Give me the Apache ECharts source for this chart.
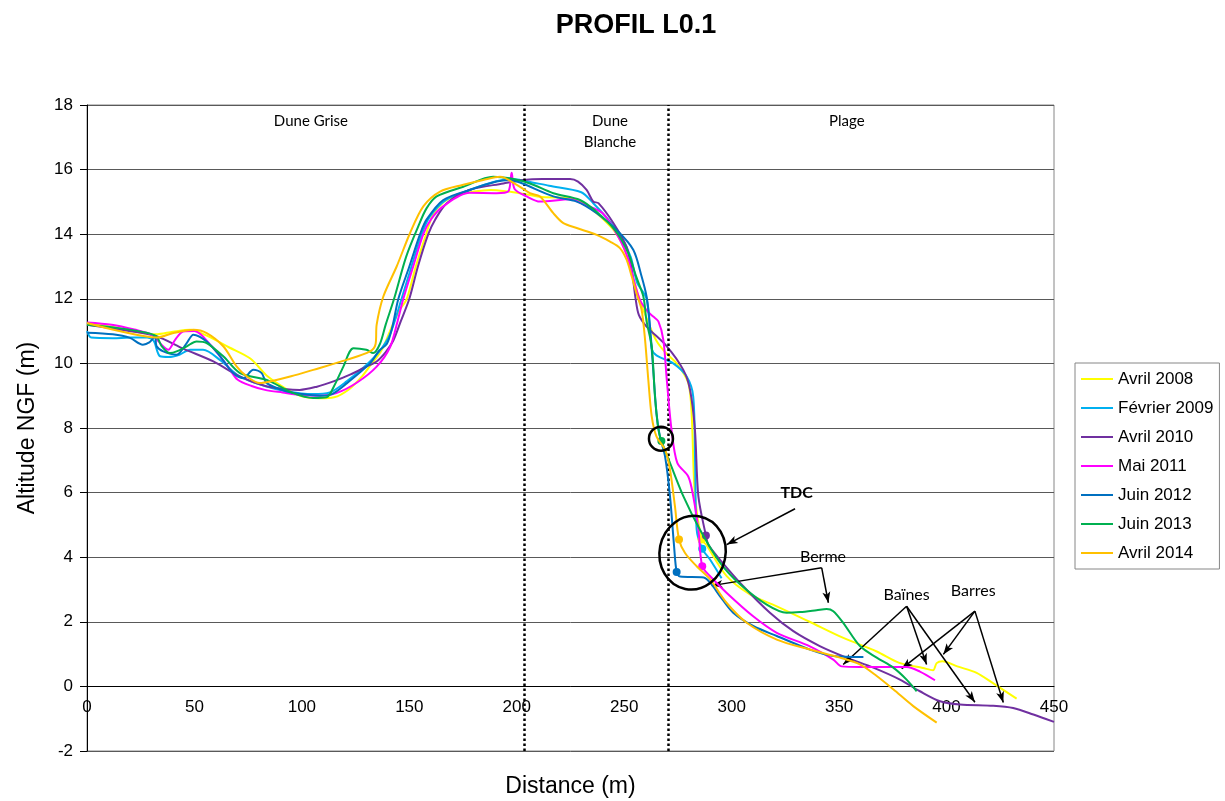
<!DOCTYPE html>
<html>
<head>
<meta charset="utf-8">
<title>PROFIL L0.1</title>
<script src="https://cdn.jsdelivr.net/npm/echarts@6.0.0/dist/echarts.min.js"></script>
<style>
html, body { margin: 0; padding: 0; background: #fff; }
#chart { width: 1225px; height: 801px; }
</style>
</head>
<body>
<div id="chart"></div>
<script>
// profils relevés (distance m, altitude NGF m)
const seriesNames = ['Avril 2008', 'Février 2009', 'Avril 2010', 'Mai 2011', 'Juin 2012', 'Juin 2013', 'Avril 2014'];
const seriesColors = ['#FFFF00', '#00B0F0', '#7030A0', '#FF00FF', '#0070C0', '#00B050', '#FFC000'];

const avril2008 = [[0,11.25],[10,11.15],[20,11.02],[32,10.9],[40,10.98],[48,11.04],[56,10.85],[66,10.5],[76,10.15],[84,9.6],[93,9.2],[100,8.98],[108,8.92],[115,8.95],[122,9.2],[128,9.6],[132,9.95],[137,10.4],[141,11.0],[145,11.6],[148.8,12.0],[153,13.0],[157.8,14.0],[161,14.6],[166,15.0],[172,15.2],[180,15.32],[188,15.37],[196,15.32],[203,15.25],[212,15.15],[225,15.13],[232,14.9],[238,14.6],[246,14.05],[251,13.4],[254,12.7],[257,12.0],[261,11.3],[265,10.7],[269,10.35],[274.4,10.0],[279.8,9.4],[281.4,8.4],[282.9,5.9],[286,4.55],[288,4.4],[297.6,3.42],[308.5,2.85],[321,2.48],[336,2.01],[352,1.5],[367.5,1.08],[378,0.73],[389,0.57],[393.7,0.5],[395.4,0.72],[398,0.78],[405,0.62],[414,0.42],[421.6,0.1],[432.6,-0.38]];
const fevrier2009 = [[0,11.0],[2,10.8],[12,10.78],[20,10.8],[28,10.8],[31,10.7],[34,10.22],[38,10.2],[43,10.27],[48,10.42],[54,10.42],[62,10.1],[71,9.6],[83.6,9.28],[93,9.13],[105,9.05],[113,9.1],[121,9.45],[130,9.95],[136,10.37],[141,10.9],[146.4,12.0],[151,13.0],[155.8,14.0],[159.6,14.55],[167,15.06],[178,15.37],[190,15.63],[197,15.72],[201.5,15.68],[215,15.5],[230,15.3],[235.6,14.96],[242,14.5],[248,13.98],[253,13.3],[256,12.5],[260.4,12.0],[262.8,10.45],[265,10.25],[272.8,10.0],[279,9.6],[282.1,8.98],[283,6.92],[283.7,4.86],[286.3,4.26],[290,3.92],[295.3,3.35]];
const avril2010 = [[0,11.2],[15,11.05],[32,10.85],[45,10.45],[58.8,10.06],[71,9.6],[83,9.3],[93,9.2],[99,9.18],[107,9.28],[115,9.45],[122.4,9.65],[130,9.9],[134.8,10.06],[139,10.35],[142.5,10.7],[146,11.3],[150,12.0],[154,13.0],[158.8,14.0],[162,14.45],[167.4,14.96],[178,15.37],[193.7,15.57],[203,15.68],[212,15.71],[224.8,15.71],[228.5,15.63],[232.5,15.37],[235.6,15.01],[238,14.96],[245,14.34],[251,13.62],[253.5,12.9],[255.3,12.0],[256.8,11.5],[260.4,11.14],[269.8,10.53],[277.5,9.8],[280.6,9.19],[282.9,7.95],[284.5,5.89],[288,4.67],[289.1,4.39],[294.6,3.92],[305.4,3.1],[317.8,2.28],[328.7,1.71],[341,1.25],[353.5,0.89],[365.9,0.58],[378.3,0.21],[387.6,-0.15],[397,-0.46],[406.2,-0.56],[421.7,-0.6],[431,-0.67],[440.4,-0.87],[450,-1.1]];
const mai2011 = [[0,11.27],[11.5,11.2],[22,11.05],[30,10.89],[35.4,10.53],[37.8,10.42],[41,10.73],[44.8,10.99],[50,11.0],[58,10.53],[65.6,9.9],[70,9.5],[76.6,9.3],[82.8,9.18],[91,9.1],[100,9.02],[107,9.0],[116,9.08],[125.5,9.4],[134.8,9.9],[141,10.5],[144.5,11.3],[147.2,12.0],[151.8,13.0],[156.5,14.0],[160,14.45],[165.7,14.86],[178,15.28],[190.6,15.27],[196,15.32],[197.6,15.9],[199,15.4],[204.6,15.17],[210.8,15.01],[224.8,15.08],[232,14.9],[240,14.65],[248,13.83],[252,13.2],[254,12.69],[257.3,11.97],[261,11.6],[263.5,11.45],[265.9,11.3],[268.2,10.73],[269.8,9.5],[272,7.95],[274.7,6.92],[279.8,6.5],[282.1,5.89],[284.5,4.86],[286.3,3.72],[290,3.41],[297.6,2.9],[310,2.17],[321,1.66],[336.4,1.24],[347.3,0.83],[351.2,0.62],[359.7,0.6],[381.4,0.6],[387.6,0.46],[394.6,0.19]];
const juin2012 = [[0,10.95],[12,10.9],[20,10.79],[26,10.58],[29,10.65],[31.6,10.83],[32.4,10.53],[35.5,10.37],[41.7,10.27],[46.4,10.63],[49.5,10.89],[55.7,10.68],[62,10.22],[68,9.7],[72.7,9.54],[77.4,9.8],[81.3,9.7],[83.6,9.39],[93,9.13],[100,9.05],[108.4,9.0],[114,9.05],[121,9.39],[131.7,10.0],[136,10.4],[139.5,10.6],[142,11.1],[144.9,12.0],[150,13.0],[155,14.0],[158,14.45],[165.8,15.06],[178,15.37],[190.6,15.63],[196.8,15.68],[201.5,15.6],[217,15.17],[227.9,15.01],[237.2,14.65],[246.5,14.13],[254.2,13.52],[258.1,12.69],[260.4,12.07],[261.8,11.3],[263.5,9.8],[265,8.47],[266.6,7.74],[269,7.12],[271.3,5.89],[273.2,4.34],[274.4,3.54],[276,3.4],[287,3.37],[290,3.21],[294.6,2.79],[300.7,2.28],[310,1.87],[321,1.56],[336.4,1.14],[347.3,0.94],[361.3,0.91]];
const juin2013 = [[0,11.2],[14,11.1],[27.7,10.95],[32.4,10.83],[34.8,10.53],[38.6,10.32],[42,10.38],[46.4,10.53],[51,10.68],[55.7,10.63],[63.4,10.22],[71.2,9.7],[83.6,9.49],[96,9.08],[105.3,8.93],[111.5,8.95],[115,9.3],[119.3,9.9],[124,10.47],[130,10.42],[133.2,10.32],[136.3,10.6],[139,11.2],[142.9,12.0],[148.5,13.3],[154.2,14.25],[158,14.8],[162.7,15.17],[175.1,15.47],[189,15.78],[196.8,15.73],[206.1,15.57],[217,15.27],[229.4,15.06],[237,14.7],[246,14.1],[252,13.4],[255.5,12.7],[258.9,12.07],[260.4,11.3],[262.8,10.53],[264.3,8.98],[265.9,7.95],[267.3,7.6],[271.3,6.92],[277.5,5.89],[285.2,4.86],[294.6,3.83],[303.9,3.16],[316.3,2.53],[325.6,2.28],[331.8,2.3],[339.5,2.36],[344.2,2.4],[347.3,2.33],[351.9,1.97],[359.7,1.25],[367.5,0.89],[375.2,0.58],[381.4,0.21],[386.1,-0.15]];
const avril2014 = [[0,11.25],[15,11.0],[32.4,10.8],[40.2,10.94],[49.5,11.04],[55.7,10.94],[63.4,10.53],[69.7,9.9],[74.3,9.6],[80.5,9.39],[85.2,9.44],[95,9.6],[105.3,9.8],[120.8,10.11],[131.7,10.37],[134.3,10.6],[134.8,11.2],[137.9,12.07],[144.1,13.0],[150.3,14.03],[156.5,14.86],[164.3,15.32],[175.1,15.53],[184.4,15.68],[192.2,15.78],[200,15.53],[206.1,15.27],[210.8,15.17],[217,14.65],[221.7,14.34],[227.9,14.19],[237.2,13.98],[243.4,13.77],[248,13.57],[251.1,13.21],[253.5,12.69],[256,12.1],[258.1,11.66],[259.7,10.73],[261.2,9.5],[262.8,8.36],[265,7.74],[269,7.33],[271.3,6.71],[273.6,5.58],[275.5,4.55],[278.3,4.13],[283.7,3.72],[290,3.31],[297.6,2.59],[307,1.97],[321,1.45],[336.4,1.14],[350.4,0.89],[359.7,0.68],[367.5,0.32],[375.2,-0.09],[384.5,-0.61],[395.4,-1.12]];
const profiles = [avril2008, fevrier2009, avril2010, mai2011, juin2012, juin2013, avril2014];

// points TDC (pied de dune) marqués sur chaque profil
const tdcPoints = [[286,4.55],[286.3,4.26],[288,4.67],[286.3,3.72],[274.4,3.54],[267.3,7.6],[275.5,4.55]];

// limites des unités morphologiques
const zoneLimits = [203.3, 270.4];

// flèches d'annotation : départ, arrivée
const arrows = [
  [[329.5,5.5],[297.7,4.39]],
  [[341.9,3.67],[290.7,3.12]],
  [[341.9,3.67],[345,2.59]],
  [[381.4,2.48],[351.9,0.68]],
  [[381.4,2.48],[390.7,0.68]],
  [[381.4,2.48],[413.2,-0.49]],
  [[413.2,2.33],[379.1,0.55]],
  [[413.2,2.33],[398.5,0.99]],
  [[413.2,2.33],[426.4,-0.5]]
];

const notes = [
  { text: 'Dune Grise', at: [104.2, 17.5], size: 15, bold: false },
  { text: 'Dune\nBlanche', at: [243.4, 17.17], size: 15, bold: false },
  { text: 'Plage', at: [353.6, 17.5], size: 15, bold: false },
  { text: 'TDC', at: [330.2, 5.99], size: 16, bold: true },
  { text: 'Berme', at: [342.5, 4.02], size: 16, bold: false },
  { text: 'Baïnes', at: [381.4, 2.85], size: 16, bold: false },
  { text: 'Barres', at: [412.4, 2.95], size: 16, bold: false }
];

const chart = echarts.init(document.getElementById('chart'));

const series = seriesNames.map((name, i) => ({
  name: name,
  type: 'line',
  data: profiles[i],
  smooth: 0.3,
  symbol: 'none',
  showSymbol: false,
  z: 2 + i,
  lineStyle: { color: seriesColors[i], width: 2 },
  itemStyle: { color: seriesColors[i] },
  markPoint: {
    symbol: 'circle',
    symbolSize: 8,
    label: { show: false },
    itemStyle: { color: seriesColors[i] },
    data: [{ coord: tdcPoints[i] }]
  }
}));

// limites Dune Grise / Dune Blanche / Plage
series.push({
  name: 'limites',
  type: 'line',
  data: [],
  z: 1,
  markLine: {
    silent: true,
    symbol: 'none',
    label: { show: false },
    lineStyle: { color: '#000', width: 2.5, type: [2.5, 2.5] },
    data: zoneLimits.map(v => ({ xAxis: v }))
  }
});

// flèches
series.push({
  name: 'fleches',
  type: 'line',
  data: [],
  z: 20,
  markLine: {
    silent: true,
    symbol: ['none', 'arrow'],
    symbolSize: [6, 11],
    label: { show: false },
    lineStyle: { color: '#000', width: 1.5, type: 'solid' },
    data: arrows.map(a => [{ coord: a[0] }, { coord: a[1] }])
  }
});

const font = 'Liberation Sans, Arial, sans-serif';
// la grille fait 646 px pour 20 m : l'axe des distances passe à l'altitude 0
const gridH = 801 - 105 - 50;
const xAxisShift = -gridH * 2 / 20;

chart.setOption({
  animation: false,
  title: {
    text: 'PROFIL L0.1',
    left: 631,
    top: 7,
    textAlign: 'center',
    textStyle: { fontFamily: font, fontSize: 27, fontWeight: 'bold', color: '#000' }
  },
  grid: {
    left: 87, right: 171, top: 105, bottom: 50,
    containLabel: false, outerBoundsMode: 'none',
    show: true, borderColor: '#868686', borderWidth: 1
  },
  legend: {
    data: seriesNames,
    orient: 'vertical',
    left: 1075,
    top: 363,
    padding: [7, 6, 7, 6],
    itemGap: 11,
    icon: 'rect',
    itemWidth: 32,
    itemHeight: 2,
    borderColor: '#868686',
    borderWidth: 1,
    textStyle: { fontFamily: font, fontSize: 17, color: '#000', lineHeight: 18 }
  },
  xAxis: {
    type: 'value',
    min: 0,
    max: 450,
    interval: 50,
    offset: xAxisShift,
    name: 'Distance (m)',
    nameLocation: 'middle',
    nameGap: 89,
    nameTextStyle: { fontFamily: font, fontSize: 23, color: '#000' },
    axisLine: { onZero: false, lineStyle: { color: '#000', width: 1 } },
    axisTick: { show: false },
    axisLabel: { margin: 12, fontFamily: font, fontSize: 17, color: '#000' },
    splitLine: { show: false }
  },
  yAxis: {
    type: 'value',
    min: -2,
    max: 18,
    interval: 2,
    name: 'Altitude NGF (m)',
    nameLocation: 'middle',
    nameGap: 48,
    nameTextStyle: { fontFamily: font, fontSize: 23, color: '#000' },
    axisLine: { show: true, onZero: false, lineStyle: { color: '#000', width: 1 } },
    axisTick: { show: true, inside: false, length: 7, lineStyle: { color: '#000' } },
    axisLabel: { margin: 14, fontFamily: font, fontSize: 17, color: '#000' },
    splitLine: { show: true, lineStyle: { color: '#595959', width: 1 } }
  },
  series: series
});

// cercles et textes placés en coordonnées de données
function toPx(p) {
  return chart.convertToPixel({ gridIndex: 0 }, p);
}
const bigC = toPx([281.8, 4.14]);
const smallC = toPx([267.1, 7.67]);
const graphics = [
  {
    type: 'ellipse', x: bigC[0], y: bigC[1], rotation: -0.2, z: 60,
    shape: { cx: 0, cy: 0, rx: 33, ry: 37 },
    style: { fill: 'none', stroke: '#000', lineWidth: 2.5 }
  },
  {
    type: 'circle', z: 60,
    shape: { cx: smallC[0], cy: smallC[1], r: 12 },
    style: { fill: 'none', stroke: '#000', lineWidth: 2.5 }
  }
];
notes.forEach(n => {
  const p = toPx(n.at);
  graphics.push({
    type: 'text', z: 60,
    x: p[0], y: p[1],
    style: {
      text: n.text,
      fill: '#000',
      font: (n.bold ? 'bold ' : '') + n.size + 'px Lato, "Open Sans", sans-serif',
      lineHeight: 21,
      align: 'center', verticalAlign: 'middle',
      textAlign: 'center', textVerticalAlign: 'middle'
    }
  });
});
chart.setOption({ graphic: graphics });

window.addEventListener('resize', () => chart.resize());
</script>
</body>
</html>
